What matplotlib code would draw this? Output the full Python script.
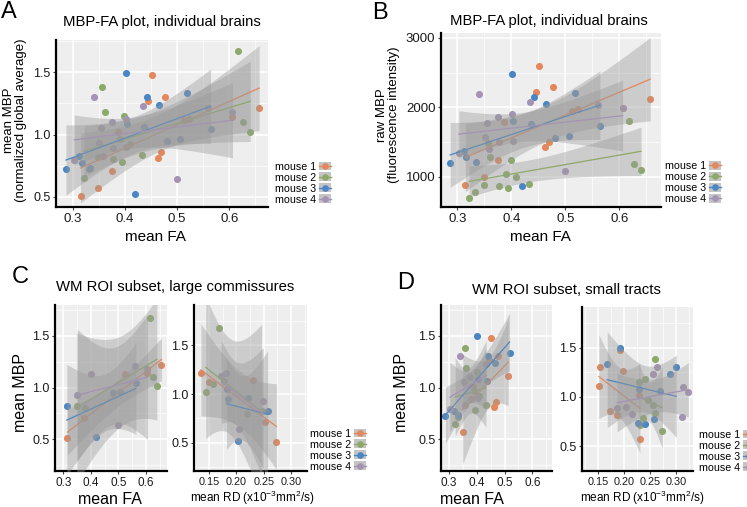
import numpy as np
import matplotlib
matplotlib.use("Agg")
import matplotlib.pyplot as plt
from matplotlib.lines import Line2D
from matplotlib.patches import Patch

plt.rcParams["font.family"] = ["Liberation Sans", "DejaVu Sans"]
plt.rcParams["mathtext.default"] = "regular"

W, H = 747, 507

MICE = ["mouse 1", "mouse 2", "mouse 3", "mouse 4"]
COLORS = ["#E2885C", "#8DA96A", "#4B86C4", "#A493B4"]

# large commissures ROIs (panel C), one list per mouse
fa_large = [
    [0.315, 0.375, 0.523, 0.606, 0.657],
    [0.349, 0.378, 0.617, 0.627, 0.640],
    [0.313, 0.419, 0.480, 0.506, 0.564],
    [0.351, 0.402, 0.500, 0.560, 0.606],
]
mbp_large = [
    [0.507, 0.710, 1.127, 1.140, 1.214],
    [0.822, 0.800, 1.674, 1.103, 1.019],
    [0.826, 0.523, 0.945, 0.960, 1.048],
    [0.930, 1.128, 0.640, 1.210, 1.180],
]
raw_large = [
    [889, 1245, 1976, 1998, 2128],
    [888, 864, 1808, 1191, 1101],
    [1369, 867, 1566, 1591, 1737],
    [1570, 1904, 1080, 2042, 1992],
]
rd_large = [
    [0.273, 0.252, 0.150, 0.231, 0.135],
    [0.246, 0.219, 0.168, 0.157, 0.144],
    [0.257, 0.203, 0.185, 0.222, 0.182],
    [0.249, 0.178, 0.205, 0.180, 0.172],
]

# small tract ROIs (panel D)
fa_small = [
    [0.349, 0.386, 0.445, 0.451, 0.463, 0.470, 0.477, 0.513],
    [0.322, 0.332, 0.357, 0.361, 0.390, 0.394, 0.399, 0.409, 0.433],
    [0.287, 0.317, 0.334, 0.402, 0.404, 0.437, 0.442, 0.465, 0.518],
    [0.303, 0.341, 0.355, 0.358, 0.375, 0.378, 0.403, 0.434],
]
mbp_small = [
    [0.571, 1.020, 1.268, 1.482, 0.812, 0.860, 1.305, 1.113],
    [0.648, 0.719, 1.383, 1.185, 0.965, 0.782, 1.148, 0.920, 0.833],
    [0.720, 0.774, 0.730, 1.498, 1.086, 1.060, 1.302, 1.238, 1.333],
    [0.794, 1.302, 1.050, 0.830, 1.100, 0.890, 0.900, 1.233],
]
raw_small = [
    [1001, 1788, 2223, 2598, 1423, 1508, 2288, 1951],
    [700, 777, 1494, 1280, 1042, 845, 1240, 994, 900],
    [1193, 1283, 1210, 2482, 1800, 1756, 2157, 2051, 2209],
    [1340, 2198, 1772, 1401, 1857, 1502, 1519, 2081],
]
rd_small = [
    [0.230, 0.228, 0.197, 0.191, 0.185, 0.173, 0.154, 0.151],
    [0.273, 0.231, 0.258, 0.240, 0.246, 0.235, 0.228, 0.255, 0.259],
    [0.240, 0.257, 0.226, 0.191, 0.228, 0.268, 0.300, 0.287, 0.167],
    [0.311, 0.263, 0.323, 0.214, 0.312, 0.186, 0.203, 0.255],
]

# two-sided 95% t quantiles by degrees of freedom
T975 = {3: 3.182, 6: 2.447, 7: 2.365, 11: 2.201, 12: 2.179}


def fit_band(x, y, n_grid=80):
    x = np.asarray(x, float)
    y = np.asarray(y, float)
    n = len(x)
    b, a = np.polyfit(x, y, 1)
    xs = np.linspace(x.min(), x.max(), n_grid)
    s = np.sqrt(np.sum((y - (a + b * x)) ** 2) / (n - 2))
    sxx = np.sum((x - x.mean()) ** 2)
    se = s * np.sqrt(1.0 / n + (xs - x.mean()) ** 2 / sxx)
    yhat = a + b * xs
    t = T975[n - 2]
    return xs, yhat, yhat - t * se, yhat + t * se


def px_axes(fig, l, t, r, b):
    return fig.add_axes([l / W, 1 - b / H, (r - l) / W, (b - t) / H])


def style(ax, xlim, ylim, xmaj, xlab, ymaj, ylab, xmin, ymin, xsize=9.5, ysize=9.5):
    ax.set_facecolor("#EEEEEE")
    ax.set_xlim(xlim)
    ax.set_ylim(ylim)
    ax.set_xticks(xmaj)
    ax.set_xticklabels(xlab)
    ax.set_yticks(ymaj)
    ax.set_yticklabels(ylab)
    ax.set_xticks(xmin, minor=True)
    ax.set_yticks(ymin, minor=True)
    ax.grid(which="major", color="white", linewidth=1.1)
    ax.grid(which="minor", color="white", linewidth=0.5)
    ax.set_axisbelow(True)
    for s in ("top", "right"):
        ax.spines[s].set_visible(False)
    for s in ("left", "bottom"):
        ax.spines[s].set_linewidth(1.6)
        ax.spines[s].set_color("black")
    ax.tick_params(which="minor", length=0)
    ax.tick_params(which="major", length=2, color="#444444", labelcolor="#1a1a1a", pad=2)
    ax.tick_params(axis="x", labelsize=xsize)
    ax.tick_params(axis="y", labelsize=ysize)


def draw(ax, xs_list, ys_list):
    for i in range(4):
        ax.scatter(xs_list[i], ys_list[i], s=26, color=COLORS[i], linewidths=0, zorder=2)
    for i in range(4):
        xs, yh, lo, hi = fit_band(xs_list[i], ys_list[i])
        ax.fill_between(xs, lo, hi, color="#999999", alpha=0.4, linewidth=0, zorder=3)
        ax.plot(xs, yh, color=COLORS[i], linewidth=0.9, zorder=3)


def legend(fig, x, y):
    handles = [(Patch(facecolor="#C4C4C4", edgecolor="none"),
                Line2D([], [], color=c, marker="o", markersize=3.8, linewidth=1.0))
               for c in COLORS]
    fig.legend(handles, MICE, loc="upper left", bbox_to_anchor=(x / W, 1 - y / H),
               markerfirst=False, frameon=False, fontsize=7.7, handlelength=1.1,
               handleheight=0.9, labelspacing=0.08, handletextpad=0.25, borderpad=0,
               borderaxespad=0)


def ftext(fig, x, y, s, **kw):
    fig.text(x / W, 1 - y / H, s, **kw)


fig = plt.figure(figsize=(W / 100, H / 100), dpi=100)

fa_all = [fa_large[i] + fa_small[i] for i in range(4)]
mbp_all = [mbp_large[i] + mbp_small[i] for i in range(4)]
raw_all = [raw_large[i] + raw_small[i] for i in range(4)]

fa_ticks = [0.3, 0.4, 0.5, 0.6]
fa_lab = ["0.3", "0.4", "0.5", "0.6"]
fa_minor = [0.35, 0.45, 0.55, 0.65]
mbp_ticks = [0.5, 1.0, 1.5]
mbp_lab = ["0.5", "1.0", "1.5"]
rd_ticks = [0.15, 0.20, 0.25, 0.30]
rd_lab = ["0.15", "0.20", "0.25", "0.30"]
rd_minor = [0.125, 0.175, 0.225, 0.275, 0.325]
sub_minor = [0.25, 0.75, 1.25, 1.75]

# A
axA = px_axes(fig, 56, 40, 268, 207)
style(axA, (0.268, 0.674), (0.417, 1.76), fa_ticks, fa_lab, mbp_ticks, mbp_lab,
      fa_minor, [0.75, 1.25, 1.75], 9.5, 9)
draw(axA, fa_all, mbp_all)

# B
axB = px_axes(fig, 441, 33, 661, 207)
style(axB, (0.27, 0.677), (566, 3072), fa_ticks, fa_lab, [1000, 2000, 3000],
      ["1000", "2000", "3000"], fa_minor, [1500, 2500], 9.5, 9.5)
draw(axB, fa_all, raw_all)

# C
axC1 = px_axes(fig, 55, 305, 167, 471)
style(axC1, (0.27, 0.677), (0.192, 1.80), fa_ticks, fa_lab, mbp_ticks, mbp_lab,
      fa_minor, sub_minor, 8.5, 9)
draw(axC1, fa_large, mbp_large)
axC2 = px_axes(fig, 194, 305, 307, 471)
style(axC2, (0.1224, 0.329), (0.213, 1.91), rd_ticks, rd_lab, mbp_ticks, mbp_lab,
      rd_minor, sub_minor, 7.8, 9)
draw(axC2, rd_large, mbp_large)

# D
axD1 = px_axes(fig, 441, 305, 552, 471)
style(axD1, (0.271, 0.671), (0.192, 1.80), fa_ticks, fa_lab, mbp_ticks, mbp_lab,
      fa_minor, sub_minor, 8.5, 9)
draw(axD1, fa_small, mbp_small)
axD2 = px_axes(fig, 582, 307, 693, 471)
style(axD2, (0.1185, 0.332), (0.245, 1.918), rd_ticks, rd_lab, mbp_ticks, mbp_lab,
      rd_minor, sub_minor, 7.8, 9)
draw(axD2, rd_small, mbp_small)

# panel letters
for x, y, s in ((1, 1, "A"), (372, 2, "B"), (12, 266, "C"), (397, 272, "D")):
    ftext(fig, x, y, s, fontsize=17, ha="left", va="top")

# titles
ftext(fig, 162, 22, "MBP-FA plot, individual brains", fontsize=10.7, ha="center", va="center")
ftext(fig, 549, 21, "MBP-FA plot, individual brains", fontsize=10.7, ha="center", va="center")
ftext(fig, 175, 287, "WM ROI subset, large commissures", fontsize=10.7, ha="center", va="center")
ftext(fig, 566, 290, "WM ROI subset, small tracts", fontsize=10.7, ha="center", va="center")

# axis labels
ftext(fig, 15, 120, "mean MBP\n(normalized global average)", fontsize=9.5, rotation=90,
      ha="center", va="center", linespacing=1.0)
ftext(fig, 388, 115, "raw MBP\n(fluorescence intensity)", fontsize=9.5, rotation=90,
      ha="center", va="center", linespacing=1.0)
ftext(fig, 155, 237, "mean FA", fontsize=11, ha="center", va="center")
ftext(fig, 540, 237, "mean FA", fontsize=11, ha="center", va="center")
ftext(fig, 21, 392, "mean MBP", fontsize=11.5, rotation=90, ha="center", va="center")
ftext(fig, 402, 393, "mean MBP", fontsize=11.5, rotation=90, ha="center", va="center")
ftext(fig, 110, 500, "mean FA", fontsize=11.5, ha="center", va="center")
ftext(fig, 472, 500, "mean FA", fontsize=11.5, ha="center", va="center")
rd_label = "mean RD (x10$^{-3}$mm$^{2}$/s)"
ftext(fig, 252, 498, rd_label, fontsize=8.5, ha="center", va="center")
ftext(fig, 642, 498, rd_label, fontsize=8.5, ha="center", va="center")

# legends
legend(fig, 275, 161.5)
legend(fig, 665, 161)
legend(fig, 310.5, 428.5)
legend(fig, 699, 429.5)

fig.savefig("out.png", dpi=100)
